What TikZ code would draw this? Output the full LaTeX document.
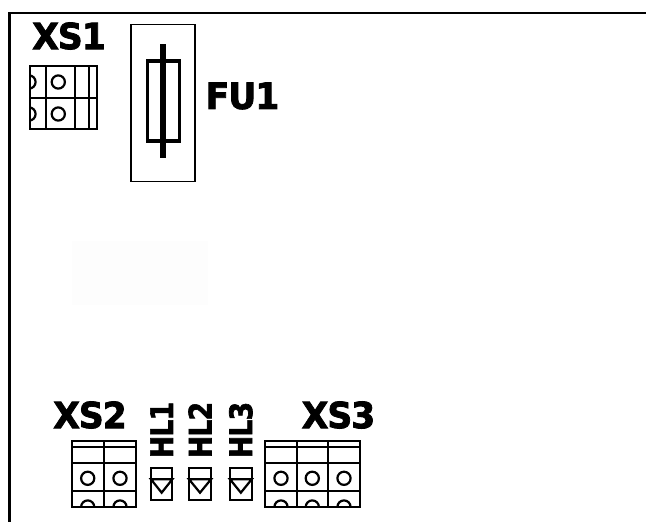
\documentclass[tikz,border=0pt]{standalone}
\usepackage{fontspec}
\usepackage{graphicx}
\setmainfont[BoldFeatures={FakeBold=2.2,LetterSpace=-3}]{DejaVu Sans}
\definecolor{faint}{HTML}{FDFDFD}
\tikzset{
  thin line/.style={draw=black,line width=1.9pt},
  term/.style={draw=black,line width=2.2pt},
  lab/.style={font=\fontsize{36}{36}\selectfont\bfseries,inner sep=0pt,text=black},
  hl/.style={font=\fontsize{31}{31}\selectfont\bfseries,inner sep=0pt,text=black,rotate=90},
}
\newcommand{\tcell}[2]{\draw[term] (#1,#2) circle (6.6);}
\newcommand{\lbl}[1]{\scalebox{0.96}[1]{#1}}
\newcommand{\hlbl}[1]{\scalebox{0.86}[1]{#1}}
\begin{document}
\begin{tikzpicture}[x=1pt,y=-1pt]
\useasboundingbox (0,0) rectangle (646,522);
\fill[white] (0,0) rectangle (646,522);
\fill[faint] (72,241) rectangle (208,305);
% frame
\draw[line width=2.4pt] (9.5,522) -- (9.5,13) -- (646,13);
\draw[line width=0.8pt] (8,183) -- (11,183) (8,357.5) -- (11,357.5);
% XS1
\begin{scope}
\clip (29.7,65.7) rectangle (96.7,129);
\draw[term] (29,82) circle (6.6);
\draw[term] (29,114) circle (6.6);
\end{scope}
\draw[term] (29.7,65.7) rectangle (96.7,129);
\draw[term] (45.7,65.7) -- (45.7,129) (75,65.7) -- (75,129) (89,65.7) -- (89,129) (29.7,98.3) -- (96.7,98.3);
\tcell{58.3}{82}
\tcell{58.3}{114}
\node[lab] (xs1) at (69,36) {\lbl{XS1}};
% FU1
\draw[thin line] (131,24.5) rectangle (195,181.5);
\draw[line width=3.4pt] (147.7,61) rectangle (179.3,141);
\draw[line width=5.5pt] (163,44) -- (163,158);
\node[lab] (fu1) at (242.5,96) {\lbl{FU1}};
% XS2
\begin{scope}
\clip (72.3,440.7) rectangle (136,507.3);
\draw[term] (87.7,507) circle (6.6);
\draw[term] (120,507) circle (6.6);
\end{scope}
\draw[term] (72.3,440.7) rectangle (136,507.3);
\draw[term] (104,440.7) -- (104,507.3) (72.3,447.3) -- (136,447.3) (72.3,463.3) -- (136,463.3) (72.3,491) -- (136,491);
\tcell{87.7}{478.3}
\tcell{120}{478.3}
\node[lab] (xs2) at (90,415) {\lbl{XS2}};
% HL
\foreach \xa/\xb/\t in {151/172.3/HL1,189/211/HL2,230/251.7/HL3}{
  \draw[term] (\xa,468.3) rectangle (\xb,500);
  \draw[term] (\xa,479.3) -- (\xb,479.3) -- ({(\xa+\xb)/2},492.7) -- cycle;
  \node[hl] at ({(\xa+\xb)/2},430) {\hlbl{\t}};
}
% XS3
\begin{scope}
\clip (265,440.7) rectangle (359.7,507.3);
\draw[term] (281,507) circle (6.6);
\draw[term] (312.3,507) circle (6.6);
\draw[term] (344,507) circle (6.6);
\end{scope}
\draw[term] (265,440.7) rectangle (359.7,507.3);
\draw[term] (296.7,440.7) -- (296.7,507.3) (328.3,440.7) -- (328.3,507.3) (265,447.3) -- (359.7,447.3) (265,463.3) -- (359.7,463.3) (265,491) -- (359.7,491);
\tcell{281}{478.3}
\tcell{312.3}{478.3}
\tcell{344}{478.3}
\node[lab] (xs3) at (338.5,415) {\lbl{XS3}};
\end{tikzpicture}
\end{document}
